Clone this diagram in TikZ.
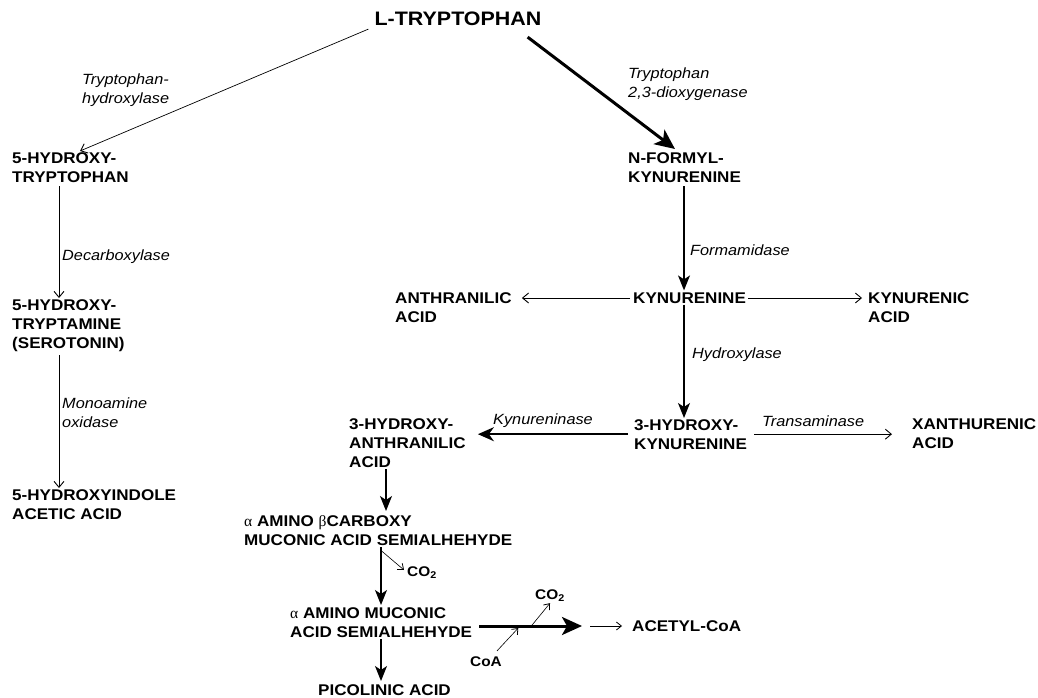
\documentclass[tikz,border=0pt]{standalone}
\usepackage{fontspec}
\setmainfont{Liberation Sans}
\newfontfamily\labfont[FakeStretch=1.1]{Liberation Sans}
\newfontfamily\grk{Liberation Serif}
\newcommand{\galpha}{{\grk\mdseries\upshape α}}
\newcommand{\gbeta}{{\grk\mdseries\upshape β}}
\usetikzlibrary{arrows.meta}
\begin{document}
\begin{tikzpicture}[x=1pt,y=-1pt,
  mol/.style={font={\labfont\bfseries\fontsize{15.5}{19}\selectfont}, align=left, inner sep=0pt, anchor=north west},
  big/.style={font={\labfont\bfseries\fontsize{19.5}{22}\selectfont}, inner sep=0pt},
  sml/.style={font={\labfont\bfseries\fontsize{14}{16}\selectfont}, inner sep=0pt, anchor=west},
  enz/.style={font={\labfont\itshape\fontsize{14.8}{18.5}\selectfont}, align=left, inner sep=0pt, anchor=north west},
  thinarr/.style={line width=0.7pt, -{Straight Barb[length=6pt,width=10pt,line width=0.9pt]}},
  medarr/.style={line width=1.4pt, -{Stealth[length=15pt,width=12pt,inset=4pt]}},
  kyarr/.style={line width=2pt, -{Stealth[length=16pt,width=14pt,inset=5pt]}},
  heavyarr/.style={line width=3pt, -{Stealth[length=20pt,width=18pt,inset=5pt]}},
  tinyarr/.style={line width=0.6pt, -{Straight Barb[length=5pt,width=8pt,line width=0.8pt]}}]
\useasboundingbox[fill=white] (0,0) rectangle (1038,698);

% column guides
\coordinate (cL) at (59,0);
\coordinate (cK) at (684,0);
\coordinate (cA) at (386,0);
\coordinate (cM) at (381,0);

% molecules
\node[big] (ltrp) at (458,19) {L-TRYPTOPHAN};
\node[mol] (htp) at (12,152) {5-HYDROXY-\\TRYPTOPHAN};
\node[mol] (ht) at (12,299) {5-HYDROXY-\\TRYPTAMINE\\(SEROTONIN)};
\node[mol] (hiaa) at (12,489) {5-HYDROXYINDOLE\\ACETIC ACID};
\node[mol] (nfk) at (628,152) {N-FORMYL-\\KYNURENINE};
\node[mol,anchor=west] (kyn) at (633,298) {KYNURENINE};
\node[mol] (anth) at (395,292) {ANTHRANILIC\\ACID};
\node[mol] (kyna) at (868,292) {KYNURENIC\\ACID};
\node[mol] (hk) at (634,419) {3-HYDROXY-\\KYNURENINE};
\node[mol] (haa) at (349,418) {3-HYDROXY-\\ANTHRANILIC\\ACID};
\node[mol] (xan) at (912,418) {XANTHURENIC\\ACID};
\node[mol] (acms) at (244,515) {\galpha\ AMINO \gbeta CARBOXY\\MUCONIC ACID SEMIALHEHYDE};
\node[mol] (ams) at (290,607) {\galpha\ AMINO MUCONIC\\ACID SEMIALHEHYDE};
\node[mol] (pic) at (318,684) {PICOLINIC ACID};
\node[mol,anchor=west] (acoa) at (632,626) {ACETYL-CoA};
\node[sml] (co2a) at (407,573) {CO\textsubscript{2}};
\node[sml] (co2b) at (535,596) {CO\textsubscript{2}};
\node[sml] (coa) at (470,662) {CoA};

% enzymes
\node[enz] (e1) at (82,74) {Tryptophan-\\hydroxylase};
\node[enz] (e2) at (628,68) {Tryptophan\\2,3-dioxygenase};
\node[enz,anchor=west] (e3) at (62,257) {Decarboxylase};
\node[enz] (e4) at (62,398) {Monoamine\\oxidase};
\node[enz,anchor=west] (e5) at (690,250) {Formamidase};
\node[enz,anchor=west] (e6) at (692,355) {Hydroxylase};
\node[enz,anchor=west] (e7) at (493,421) {Kynureninase};
\node[enz,anchor=west] (e8) at (762,421) {Transaminase};

% connectors
\draw[thinarr] ([xshift=-6pt,yshift=-3pt]ltrp.south west) -- ([xshift=68pt,yshift=1pt]htp.north west);
\draw[heavyarr] ([xshift=-14pt,yshift=-11pt]ltrp.south east) -- ([xshift=47pt,yshift=3pt]nfk.north west);
\draw[thinarr] ([yshift=-4pt]htp.south -| cL) -- ([yshift=1pt]ht.north -| cL);
\draw[thinarr] ([yshift=-4pt]ht.south -| cL) -- ([yshift=1pt]hiaa.north -| cL);
\draw[medarr] ([yshift=-4pt]nfk.south -| cK) -- ([yshift=2pt]kyn.north -| cK);
\draw[medarr] ([yshift=-1pt]kyn.south -| cK) -- ([yshift=1pt]hk.north -| cK);
\draw[thinarr] ([xshift=-3pt]kyn.west) -- ([xshift=10pt]kyn.west -| anth.east);
\draw[thinarr] ([xshift=2pt]kyn.east) -- ([xshift=-6pt]kyn.east -| kyna.west);
\draw[kyarr] ([xshift=-6pt]hk.west) -- ([xshift=12pt]hk.west -| haa.east);
\draw[thinarr] ([xshift=7pt]hk.east) -- ([xshift=-20pt]hk.east -| xan.west);
\draw[medarr] ([yshift=-2pt]haa.south -| cA) -- ([yshift=4pt]acms.north -| cA);
\draw[medarr] ([yshift=-2pt]acms.south -| cM) -- ([yshift=2pt]ams.north -| cM);
\draw[tinyarr] ([yshift=-5pt]acms.south -| cM) -- ([xshift=-3pt,yshift=3pt]co2a.west);
\draw[medarr] ([yshift=-2pt]ams.south -| cM) -- ([yshift=3pt]pic.north -| cM);
\draw[heavyarr] ([xshift=7pt]ams.east |- acoa.west) -- ([xshift=-50pt]acoa.west);
\draw[tinyarr] ([xshift=-42pt]acoa.west) -- ([xshift=-10pt]acoa.west);
\draw[tinyarr] ([xshift=59pt]ams.east |- acoa.west) -- ([xshift=15pt,yshift=-1pt]co2b.south west);
\draw[tinyarr] ([xshift=-5pt,yshift=6pt]coa.north east) -- ([xshift=46pt,yshift=-2pt]ams.east |- acoa.west);
\end{tikzpicture}
\end{document}
